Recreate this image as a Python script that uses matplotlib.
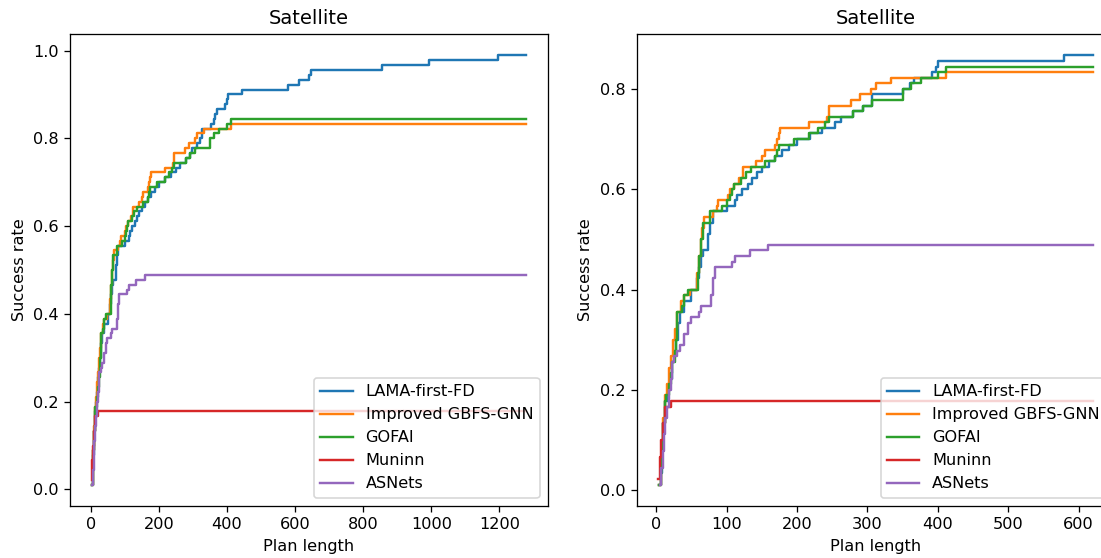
import matplotlib
matplotlib.use("Agg")
import matplotlib.pyplot as plt

N_TASKS = 90
METHODS = ["LAMA-first-FD", "Improved GBFS-GNN", "GOFAI", "Muninn", "ASNets"]
COLORS = ["tab:blue", "tab:orange", "tab:green", "tab:red", "tab:purple"]

# Plan length at which the cumulative number of solved tasks reaches each level
lama_a_len = [4, 6, 8, 10, 13, 16, 19, 22, 25, 28, 31, 34, 40, 50, 58, 61, 64, 66, 74, 76,
              80, 100, 112, 115, 122, 130, 136, 143, 150, 160, 168, 178, 188, 200, 218, 236,
              250, 262, 279, 292, 297, 311, 321, 326, 353, 363, 366, 370, 394, 399, 404, 443,
              579, 611, 642, 646, 854, 993, 1197]
lama_a_solved = [1, 3, 7, 12, 16, 18, 20, 23, 25, 27, 30, 32, 34, 36, 38, 40, 42, 43, 46, 48,
                 50, 51, 52, 53, 54, 55, 56, 57, 58, 59, 60, 61, 62, 63, 64, 65,
                 66, 67, 68, 69, 70, 71, 72, 74, 75, 76, 77, 78, 79, 80, 81, 82,
                 83, 84, 85, 86, 87, 88, 89]

lama_b_len = [4, 6, 8, 10, 13, 16, 19, 22, 25, 28, 31, 34, 40, 50, 58, 61, 64, 66, 74, 76,
              80, 100, 112, 115, 122, 130, 136, 143, 150, 160, 168, 178, 188, 200, 218, 236,
              254, 262, 279, 293, 307, 350, 360, 366, 392, 398, 400, 579]
lama_b_solved = [1, 3, 7, 12, 16, 18, 20, 23, 25, 27, 30, 32, 34, 36, 38, 40, 42, 43, 46, 48,
                 50, 51, 52, 53, 54, 55, 56, 57, 58, 59, 60, 61, 62, 63, 64, 65,
                 66, 67, 68, 69, 71, 72, 73, 74, 75, 76, 77, 78]

gnn_len = [4, 6, 8, 10, 12, 15, 18, 21, 24, 27, 30, 35, 40, 48, 58, 61, 63, 65, 68, 80,
           86, 88, 102, 105, 110, 118, 123, 142, 150, 155, 168, 172, 174, 176, 217, 243,
           246, 276, 290, 305, 312, 333, 411]
gnn_solved = [1, 4, 8, 13, 17, 19, 22, 24, 27, 29, 32, 34, 35, 36, 39, 42, 45, 47, 49, 50,
              51, 52, 53, 54, 55, 56, 58, 59, 60, 61, 62, 63, 64, 65, 66, 67,
              69, 70, 71, 72, 73, 74, 75]

gofai_len = [4, 6, 8, 10, 12, 14, 18, 21, 23, 26, 28, 30, 37, 40, 45, 59, 61, 64, 66, 76,
             93, 100, 105, 108, 111, 120, 128, 135, 155, 168, 172, 174, 195, 217, 230, 240,
             245, 279, 293, 307, 350, 362, 376, 400, 411]
gofai_solved = [1, 4, 8, 12, 16, 17, 19, 21, 23, 25, 27, 32, 33, 35, 36, 39, 42, 45, 48, 50,
                51, 52, 53, 54, 55, 56, 57, 58, 59, 60, 61, 62, 63, 64, 65, 66,
                67, 68, 69, 70, 72, 73, 74, 75, 76]

muninn_len = [3, 5, 7, 10, 13, 21]
muninn_solved = [2, 6, 9, 12, 15, 16]

asnets_len = [5, 7, 9, 11, 13, 15, 18, 21, 23, 25, 30, 33, 40, 45, 49, 61, 64, 78, 80, 83,
              107, 112, 133, 159]
asnets_solved = [1, 4, 7, 10, 13, 15, 18, 20, 23, 24, 25, 26, 28, 30, 31, 32, 33, 35, 38, 40,
                 41, 42, 43, 44]

LEFT_MAX_LEN = 1278
RIGHT_MAX_LEN = 620

left_series = [(lama_a_len, lama_a_solved), (gnn_len, gnn_solved), (gofai_len, gofai_solved),
               (muninn_len, muninn_solved), (asnets_len, asnets_solved)]
right_series = [(lama_b_len, lama_b_solved), (gnn_len, gnn_solved), (gofai_len, gofai_solved),
                (muninn_len, muninn_solved), (asnets_len, asnets_solved)]

W, H, DPI = 1101, 558, 116
fig = plt.figure(figsize=(W / DPI, H / DPI), dpi=DPI)
ax_left = fig.add_axes([70 / W, 52 / H, 477.7 / W, 472 / H])
ax_right = fig.add_axes([636.7 / W, 52 / H, 477.7 / W, 472 / H])


def draw_panel(ax, series, max_len):
    for name, color, (lens, solved) in zip(METHODS, COLORS, series):
        xs = list(lens) + [max_len]
        ys = [s / N_TASKS for s in solved] + [solved[-1] / N_TASKS]
        ax.step(xs, ys, where="post", color=color, label=name, linewidth=1.5)
    ax.set_title("Satellite")
    ax.set_xlabel("Plan length")
    ax.set_ylabel("Success rate")
    ax.legend(loc="lower right")


draw_panel(ax_left, left_series, LEFT_MAX_LEN)
draw_panel(ax_right, right_series, RIGHT_MAX_LEN)

fig.savefig("out.png", dpi=DPI)
